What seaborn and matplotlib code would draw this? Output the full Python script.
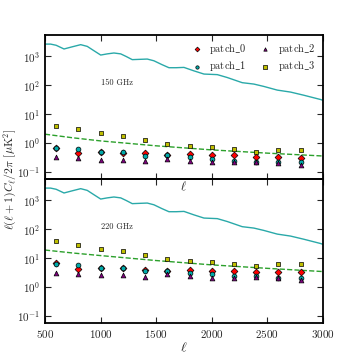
import numpy as np
import pandas as pd
import matplotlib
matplotlib.use("Agg")
import matplotlib.pyplot as plt
import seaborn as sns

# ---------------- data ----------------
ell_bins = [600, 800, 1000, 1200, 1400, 1600, 1800, 2000, 2200, 2400, 2600, 2800]

p150_patch0 = [0.66, 0.46, 0.50, 0.45, 0.43, 0.39, 0.41, 0.38, 0.37, 0.32, 0.32, 0.31]
p150_patch1 = [0.67, 0.63, 0.50, 0.50, 0.35, 0.39, 0.33, 0.28, 0.24, 0.22, 0.21, 0.21]
p150_patch2 = [0.33, 0.31, 0.26, 0.26, 0.24, 0.28, 0.24, 0.22, 0.21, 0.22, 0.20, 0.17]
p150_patch3 = [3.9, 3.0, 2.2, 1.7, 1.27, 0.93, 0.77, 0.73, 0.59, 0.50, 0.56, 0.57]

p220_patch0 = [6.8, 4.3, 4.6, 4.4, 4.0, 3.7, 3.9, 3.7, 3.7, 3.3, 3.2, 3.2]
p220_patch1 = [6.0, 5.6, 4.6, 4.4, 3.5, 3.7, 3.1, 2.7, 2.4, 2.4, 2.1, 2.1]
p220_patch2 = [3.1, 2.8, 2.5, 2.6, 2.2, 2.7, 2.3, 2.1, 2.1, 2.2, 2.0, 1.8]
p220_patch3 = [38, 29, 21, 17, 12.6, 9.3, 7.8, 7.4, 6.1, 5.2, 6.0, 6.1]

ell_theory = [500, 550, 600, 671, 740, 821, 880, 940, 1001, 1060, 1120, 1181, 1230,
              1285, 1350, 1420, 1480, 1550, 1615, 1680, 1750, 1840, 1930, 2050, 2139,
              2274, 2379, 2469, 2589, 2709, 2829, 2979, 3000]
cl_theory = [2690, 2690, 2450, 1820, 2140, 2570, 2240, 1585, 1120, 1230, 1320, 1230, 1000,
             776, 794, 813, 708, 525, 407, 407, 417, 316, 245, 234, 186,
             123, 110, 91, 68, 58, 45, 32, 30]

ell_fg = [500, 750, 1000, 1500, 2000, 2500, 3000]
fg_150 = [2.0, 1.5, 1.17, 0.79, 0.57, 0.44, 0.35]
fg_220 = [19, 15, 12.2, 8.2, 5.8, 4.4, 3.4]

patch_names = ["patch_0", "patch_1", "patch_2", "patch_3"]
patch_labels = [r"$\mathrm{patch\_0}$", r"$\mathrm{patch\_1}$",
                r"$\mathrm{patch\_2}$", r"$\mathrm{patch\_3}$"]
patch_markers = ["D", "o", "^", "s"]
patch_colors = ["#ff0000", "#00aaaa", "#800080", "#bfbf00"]

freq_labels = ["150 GHz", "220 GHz"]
x_ticks = [500, 1000, 1500, 2000, 2500, 3000]

# ---------------- style ----------------
sns.set_theme(style="ticks")
plt.rcParams["font.family"] = ["cmr10", "DejaVu Serif"]
plt.rcParams["mathtext.fontset"] = "cm"
plt.rcParams["axes.formatter.use_mathtext"] = True
plt.rcParams["axes.unicode_minus"] = False

fig = plt.figure(figsize=(3.6, 3.6), dpi=100)
ax1 = fig.add_axes([0.125, 0.503, 0.772, 0.4])
ax2 = fig.add_axes([0.125, 0.103, 0.772, 0.4])
ax2.patch.set_alpha(0.0)

panels = [
    (ax1, [p150_patch0, p150_patch1, p150_patch2, p150_patch3], fg_150, freq_labels[0]),
    (ax2, [p220_patch0, p220_patch1, p220_patch2, p220_patch3], fg_220, freq_labels[1]),
]

for ax, series, fg, flabel in panels:
    th = pd.DataFrame({"ell": ell_theory, "cl": cl_theory})
    sns.lineplot(data=th, x="ell", y="cl", ax=ax, color="#2aa9a9", lw=1.0)
    fgd = pd.DataFrame({"ell": ell_fg, "cl": fg})
    sns.lineplot(data=fgd, x="ell", y="cl", ax=ax, color="#2ca02c", lw=1.0,
                 linestyle="--")
    for vals, lab, mk, col in zip(series, patch_labels, patch_markers, patch_colors):
        d = pd.DataFrame({"ell": ell_bins, "cl": vals})
        sns.scatterplot(data=d, x="ell", y="cl", ax=ax, marker=mk, color=col,
                        edgecolor="black", linewidth=0.5, s=12, label=lab, zorder=5)
    ax.set_yscale("log")
    ax.set_xlim(500, 3000)
    ax.set_ylim(0.056, 5600)
    ax.set_xticks(x_ticks)
    ax.set_yticks([0.1, 1, 10, 100, 1000])
    ax.minorticks_off()
    ax.tick_params(direction="in", top=True, right=True, length=4, width=0.8,
                   labelsize=8)
    for sp in ax.spines.values():
        sp.set_linewidth(1.3)
        sp.set_color("black")
    ax.text(1000, 100, flabel, fontsize=6)
    ax.set_ylabel("")
    ax.set_xlabel(r"$\ell$", fontsize=9, labelpad=1)

ax1.tick_params(labelbottom=False)
ax1.legend(ncol=2, frameon=False, loc="upper right", fontsize=7.5,
           markerscale=0.7, handletextpad=0.4, handlelength=1.6,
           columnspacing=1.0, labelspacing=0.3, borderaxespad=0.3)
ax2.legend_.remove()
ax2.set_xlabel(r"$\ell$", fontsize=10, labelpad=1)

fig.text(0.03, 0.503, r"$\ell(\ell+1)C_\ell/2\pi\ [\mu\mathrm{K}^2]$",
         rotation=90, va="center", ha="center", fontsize=8.5)

fig.savefig("out.png", dpi=100)
